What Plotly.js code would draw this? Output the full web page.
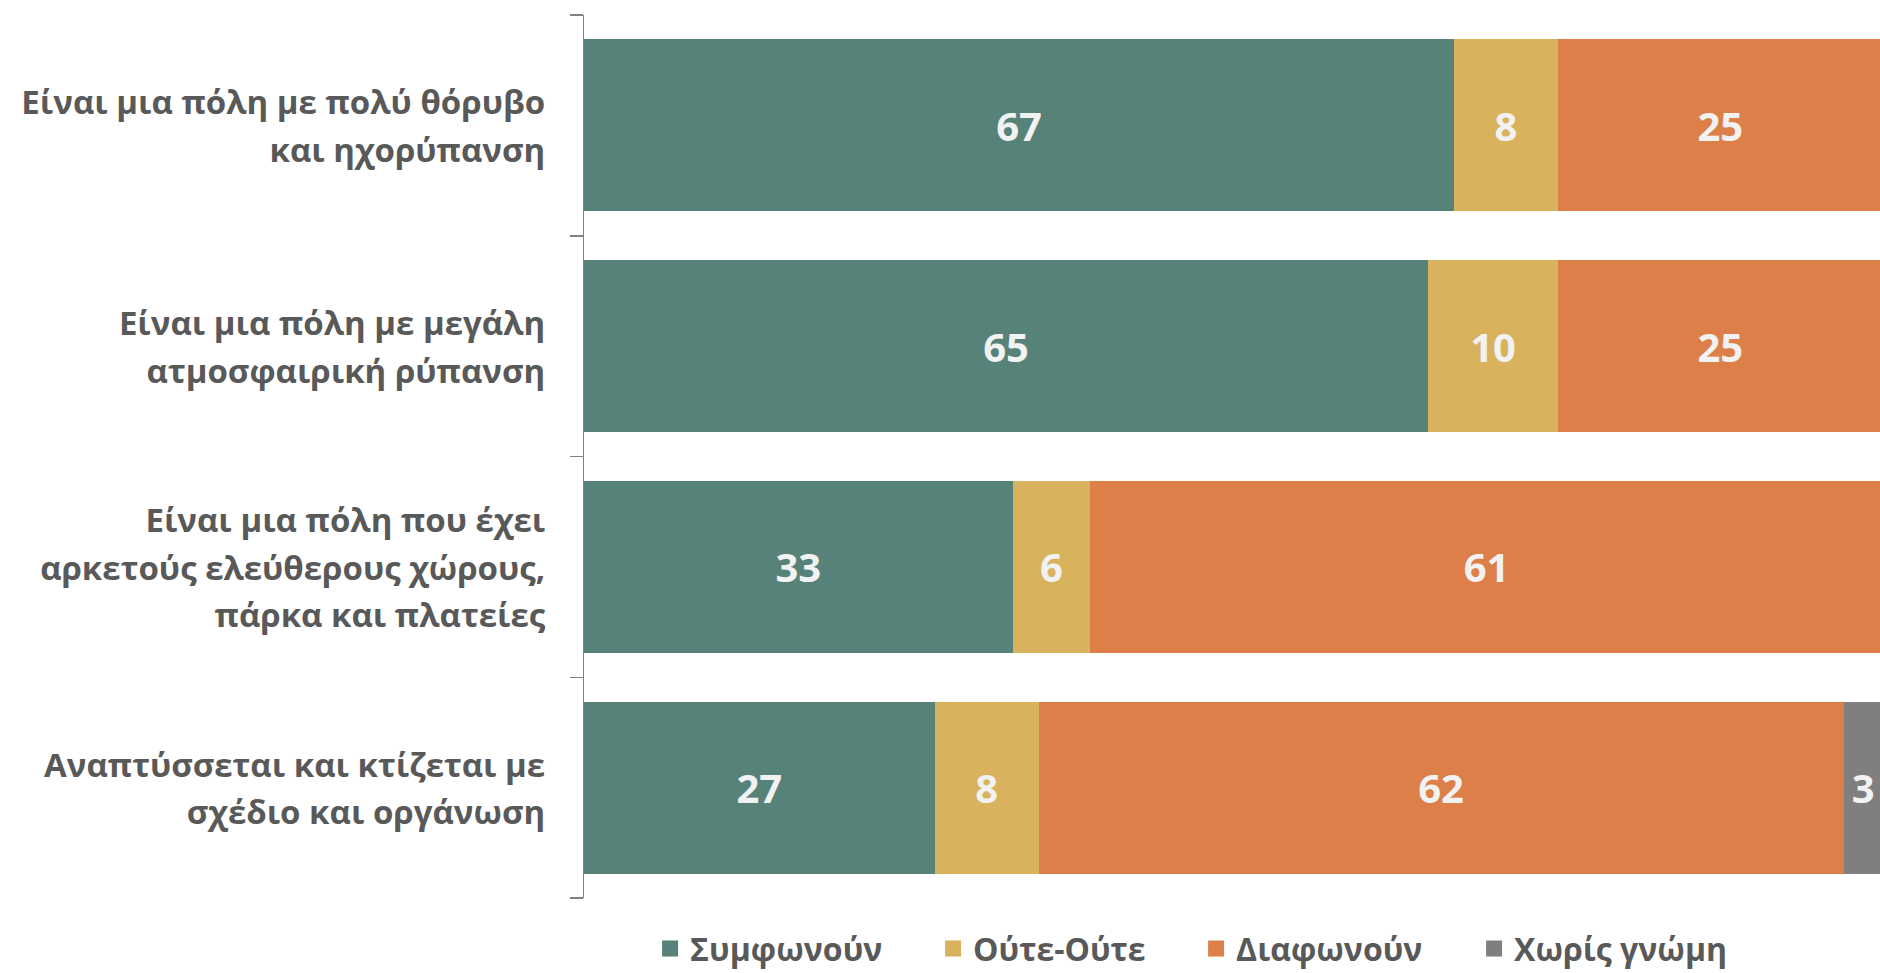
<!DOCTYPE html>
<html>
<head>
<meta charset="utf-8">
<script src="https://cdn.plot.ly/plotly-3.0.1.min.js"></script>
<style>
  html, body { margin: 0; padding: 0; background: #ffffff; }
  #chart { width: 1880px; height: 973px; }
</style>
</head>
<body>
<div id="chart"></div>
<script>
// ---- data ----
var categories = [
  "Είναι μια πόλη με πολύ θόρυβο<br>και ηχορύπανση",
  "Είναι μια πόλη με μεγάλη<br>ατμοσφαιρική ρύπανση",
  "Είναι μια πόλη που έχει<br>αρκετούς ελεύθερους χώρους,<br>πάρκα και πλατείες",
  "Αναπτύσσεται και κτίζεται με<br>σχέδιο και οργάνωση"
];
var seriesNames = ["Συμφωνούν", "Ούτε-Ούτε", "Διαφωνούν", "Χωρίς γνώμη"];
var agree    = [67, 65, 33, 27];
var neither  = [8, 10, 6, 8];
var disagree = [25, 25, 61, 62];
var noOpinion = [null, null, null, 3];

// ---- styles ----
var colors = ["#578279", "#D9B25E", "#DD7F48", "#7F7F7F"];
var legendWidths = [238, 218, 233, 232];
var FONT = "'Open Sans', 'Noto Sans', sans-serif";
var seriesValues = [agree, neither, disagree, noOpinion];

var traces = seriesValues.map(function (vals, i) {
  return {
    type: "bar",
    orientation: "h",
    name: seriesNames[i],
    y: categories,
    x: vals,
    marker: { color: colors[i], line: { width: 0 } },
    texttemplate: "%{x}",
    textposition: "inside",
    insidetextanchor: "middle",
    constraintext: "none",
    textfont: { family: FONT, size: 40, color: "#F2F2F2", weight: "bold" },
    hoverinfo: "skip",
    showlegend: false
  };
});

// legend swatches (larger squares than default bar swatches)
seriesNames.forEach(function (n, i) {
  traces.push({
    type: "scatter",
    mode: "markers",
    name: n,
    x: [null],
    y: [null],
    legendwidth: legendWidths[i],
    marker: { symbol: "square", size: 18, color: colors[i] },
    hoverinfo: "skip",
    showlegend: true
  });
});

var tickText = categories.map(function (c) {
  return c.split("<br>").map(function (l) {
    return '<span style="font-size:33px">' + l + '</span>';
  }).join("<br>");
});

var layout = {
  width: 1880,
  height: 973,
  margin: { l: 584, r: 0, t: 15, b: 75, pad: 0, autoexpand: false },
  paper_bgcolor: "#ffffff",
  plot_bgcolor: "#ffffff",
  barmode: "stack",
  bargap: 0.22,
  showlegend: true,
  legend: {
    orientation: "h",
    traceorder: "normal",
    x: 0.051,
    xanchor: "left",
    y: -0.0575,
    yanchor: "middle",
    font: { family: FONT, size: 32, color: "#595959", weight: "bold" },
    itemsizing: "trace",
    bgcolor: "rgba(0,0,0,0)"
  },
  xaxis: {
    range: [0, 99.8],
    visible: false,
    fixedrange: true
  },
  yaxis: {
    type: "category",
    autorange: "reversed",
    tickmode: "array",
    tickvals: categories,
    ticktext: tickText,
    tickson: "boundaries",
    ticks: "outside",
    ticklen: 13,
    tickwidth: 1.5,
    tickcolor: "#808080",
    showline: true,
    linecolor: "#808080",
    linewidth: 1.5,
    showgrid: false,
    zeroline: false,
    ticklabelstandoff: 30,
    tickfont: { family: FONT, size: 36.5, color: "#595959", weight: "bold" },
    fixedrange: true
  }
};

Plotly.newPlot("chart", traces, layout, { displayModeBar: false, staticPlot: true });
</script>
</body>
</html>
